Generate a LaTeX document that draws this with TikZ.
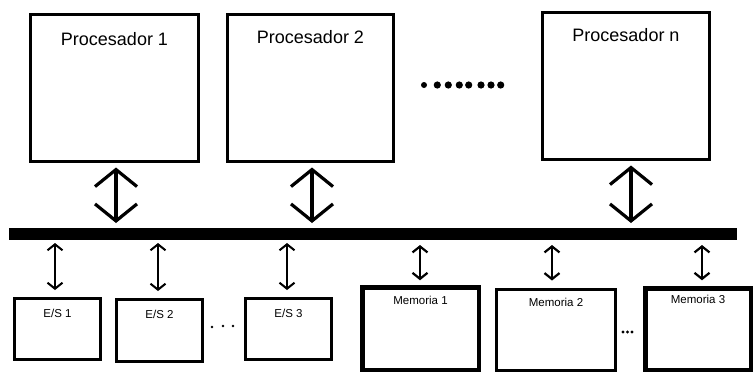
\documentclass[tikz,border=0pt]{standalone}
\usepackage{fontspec}
\setmainfont{Liberation Sans}
\usetikzlibrary{arrows.meta}
\begin{document}
\begin{tikzpicture}[x=1pt,y=-1pt,
  box/.style={draw, line width=#1, outer sep=0pt, inner sep=0pt, fill=white},
  proc/.style={box=3pt},
  title/.style={anchor=north, inner sep=0pt, font=\fontsize{18}{20}\selectfont},
  small/.style={anchor=north, inner sep=0pt, font=\fontsize{11.5}{13}\selectfont},
  bigarr/.style={line width=3.2pt, {Straight Barb[length=17pt,width=42pt,line width=3.2pt]}-{Straight Barb[length=17pt,width=42pt,line width=3.2pt]}},
  esarr/.style={line width=1.3pt, {Straight Barb[length=6pt,width=15pt,line width=2pt]}-{Straight Barb[length=6pt,width=15pt,line width=2pt]}},
  memarr/.style={line width=2pt, {Straight Barb[length=6pt,width=15pt,line width=2.2pt]}-{Straight Barb[length=6pt,width=15pt,line width=2.2pt]}},
  bigdot/.style={fill=black},
]
\useasboundingbox (0,0) rectangle (753,373);

% processors
\node[proc, minimum width=168pt, minimum height=147pt,
  label={[title, yshift=-18pt]north:Procesador 1}] (p1) at (114.5,88) {};
\node[proc, minimum width=166pt, minimum height=147pt,
  label={[title, yshift=-15.5pt]north:Procesador 2}] (p2) at (310.5,88) {};
\node[proc, minimum width=167pt, minimum height=147pt,
  label={[title, yshift=-16pt]north:Procesador n}] (pn) at (626,86) {};

% dots between processors
\fill (424,85) circle (3pt);
\foreach \x in {437.3,448.3,459.3,468.7,481,491,500.7}
  \fill (\x,85) circle (3.6pt);

% bus
\node[fill=black, draw=none, inner sep=0pt, outer sep=0pt,
  minimum width=728pt, minimum height=12pt] (bus) at (373,234) {};

% I/O modules
\node[box=3pt, minimum width=86pt, minimum height=61pt,
  label={[small, yshift=-10.5pt]north:E/S 1}] (es1) at (57.5,329) {};
\node[box=3pt, minimum width=86pt, minimum height=62pt,
  label={[small, yshift=-10.5pt]north:E/S 2}] (es2) at (159.5,330.5) {};
\node[box=3pt, minimum width=86pt, minimum height=61pt,
  label={[small, yshift=-10.5pt]north:E/S 3}] (es3) at (288.5,329) {};

% memory modules
\node[box=4.5pt, minimum width=116.5pt, minimum height=82.5pt,
  label={[small, yshift=-9pt]north:Memoria 1}] (m1) at (420.5,328.5) {};
\node[box=3pt, minimum width=119pt, minimum height=81pt,
  label={[small, yshift=-8pt]north:Memoria 2}] (m2) at (556,330) {};
\node[box=4.5pt, minimum width=105.5pt, minimum height=81.5pt,
  label={[small, yshift=-7pt]north:Memoria 3}] (m3) at (698,329) {};

% ellipses in the bottom row
\foreach \x/\y in {212/327,223/326,233/326}
  \fill (\x,\y) circle (1.3pt);
\foreach \x in {623,627.5,632}
  \fill (\x,332) circle (1.6pt);

% processor <-> bus
\draw[bigarr, shorten <=6pt, shorten >=5pt] ([xshift=1.5pt]p1.south) -- ([xshift=1.5pt]p1.south |- bus.north);
\draw[bigarr, shorten <=6pt, shorten >=5pt] ([xshift=1.5pt]p2.south) -- ([xshift=1.5pt]p2.south |- bus.north);
\draw[bigarr, shorten <=6pt, shorten >=5pt] ([xshift=5pt]pn.south) -- ([xshift=5pt]pn.south |- bus.north);

% bus <-> I/O
\draw[esarr, shorten <=3pt, shorten >=8.5pt] ([xshift=-2.5pt]es1.north |- bus.south) -- ([xshift=-2.5pt]es1.north);
\draw[esarr, shorten <=3pt, shorten >=8.5pt] ([xshift=-1.5pt]es2.north |- bus.south) -- ([xshift=-1.5pt]es2.north);
\draw[esarr, shorten <=3pt, shorten >=8.5pt] ([xshift=-1.5pt]es3.north |- bus.south) -- ([xshift=-1.5pt]es3.north);

% bus <-> memory
\draw[memarr, shorten <=5pt, shorten >=7pt] ([xshift=-0.5pt]m1.north |- bus.south) -- ([xshift=-0.5pt]m1.north);
\draw[memarr, shorten <=5pt, shorten >=9pt] ([xshift=-4pt]m2.north |- bus.south) -- ([xshift=-4pt]m2.north);
\draw[memarr, shorten <=5pt, shorten >=8pt] ([xshift=4pt]m3.north |- bus.south) -- ([xshift=4pt]m3.north);
\end{tikzpicture}
\end{document}
